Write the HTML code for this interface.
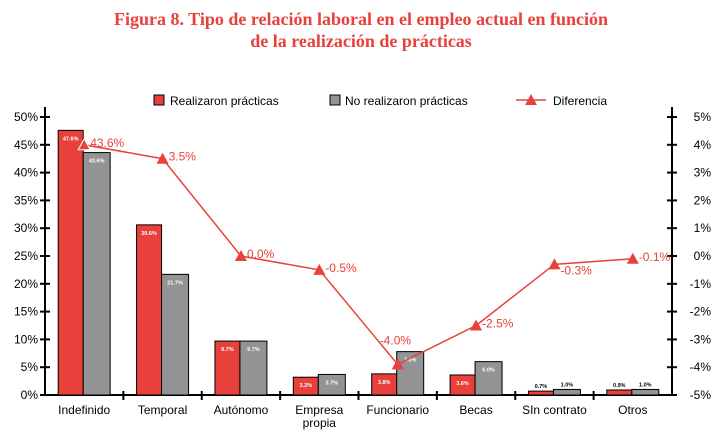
<!DOCTYPE html>
<html><head><meta charset="utf-8">
<style>
body{margin:0;background:#fff;width:722px;height:443px;overflow:hidden}
.t{position:absolute;left:0;width:722px;text-align:center;font-family:"Liberation Serif",serif;font-weight:bold;color:#e8403a;font-size:18px}
</style></head><body>
<div class="t" style="top:8px;line-height:22px">Figura 8. Tipo de relación laboral en el empleo actual en función<br>de la realización de prácticas</div>
<svg id="c" width="722" height="443" style="position:absolute;left:0;top:0" font-family="Liberation Sans, sans-serif"></svg>
<script>
const categories=["Indefinido","Temporal","Autónomo","Empresa|propia","Funcionario","Becas","SIn contrato","Otros"];
const realizaron=[47.6,30.6,9.7,3.2,3.8,3.6,0.7,0.9];
const noRealizaron=[43.6,21.7,9.7,3.7,7.8,6.0,1.0,1.0];
const diferencia=[4.0,3.5,0.0,-0.5,-3.9,-2.5,-0.3,-0.1];
const diffLabels=["43.6%","3.5%","0.0%","-0.5%","-4.0%","-2.5%","-0.3%","-0.1%"];
const leftTicks=[0,5,10,15,20,25,30,35,40,45,50];
const rightTicks=[-5,-4,-3,-2,-1,0,1,2,3,4,5];
const svg=document.getElementById('c');const NS='http://www.w3.org/2000/svg';
function mk(t,a,p){const e=document.createElementNS(NS,t);for(const k in a)e.setAttribute(k,a[k]);(p||svg).appendChild(e);return e;}
const L=45,R=672,T=117,B=395;const cw=(R-L)/categories.length;
const yL=v=>B-(v/50)*(B-T);const yR=v=>B-((v+5)/10)*(B-T);const xc=i=>L+cw*(i+0.5);
// axes
let e=mk('line',{x1:L,y1:T-10,x2:L,y2:B,stroke:'#000','stroke-width':2});

e=mk('line',{x1:R,y1:T-10,x2:R,y2:B,stroke:'#000','stroke-width':2});

e=mk('line',{x1:L,y1:B,x2:R,y2:B,stroke:'#000','stroke-width':2});

leftTicks.forEach(v=>{const y=yL(v);mk('line',{x1:L-5,y1:y,x2:L+5,y2:y,stroke:'#000','stroke-width':2});
 e=mk('text',{x:L-7,y:y+4,'text-anchor':'end','font-size':12});e.textContent=v+'%';
 });
rightTicks.forEach(v=>{const y=yR(v);mk('line',{x1:R-5,y1:y,x2:R+5,y2:y,stroke:'#000','stroke-width':2});
 e=mk('text',{x:R+39,y:y+4,'text-anchor':'end','font-size':12});e.textContent=v+'%';
 });
for(let i=1;i<categories.length;i++){const x=L+cw*i;mk('line',{x1:x,y1:B-4,x2:x,y2:B+5,stroke:'#000','stroke-width':2});}
const bw=25;
categories.forEach((c,i)=>{
 const x=xc(i);
 e=mk('rect',{x:x-bw-1,y:yL(realizaron[i]),width:bw,height:B-yL(realizaron[i]),fill:'#e8403a',stroke:'#000','stroke-width':1});
 
 e=mk('rect',{x:x-1,y:yL(noRealizaron[i]),width:bw+2,height:B-yL(noRealizaron[i]),fill:'#939396',stroke:'#000','stroke-width':1});
 
 const small=realizaron[i]<2;
 e=mk('text',{x:x-bw/2-1,y:small?yL(realizaron[i])-3:yL(realizaron[i])+10,'text-anchor':'middle','font-size':5.5,'font-weight':'bold',fill:small?'#000':'#fff'});e.textContent=realizaron[i].toFixed(1)+'%';
 
 e=mk('text',{x:x+bw/2,y:small?yL(noRealizaron[i])-3:yL(noRealizaron[i])+10,'text-anchor':'middle','font-size':5.5,'font-weight':'bold',fill:small?'#000':'#fff'});e.textContent=noRealizaron[i].toFixed(1)+'%';
 
 const parts=c.split('|');
 parts.forEach((p,j)=>{e=mk('text',{x:x,y:414+j*13,'text-anchor':'middle','font-size':12});e.textContent=p;
 });
});
e=mk('polyline',{points:diferencia.map((v,i)=>xc(i)+','+yR(v)).join(' '),fill:'none',stroke:'#e8403a','stroke-width':1.5});

diferencia.forEach((v,i)=>{const x=xc(i),y=yR(v);
 e=mk('polygon',{points:`${x},${y-6} ${x-6},${y+5} ${x+6},${y+5}`,fill:'#e8403a',stroke:i==0?'#fff':'none'});
 
 const lx=i==4?x-18:x+6,ly=i==4?y-20:(i==6?y+10:y+2);
 e=mk('text',{x:lx,y:ly,'font-size':12,fill:'#e8403a'});e.textContent=diffLabels[i];
 });
// legend
e=mk('rect',{x:154,y:95,width:10,height:10,fill:'#e8403a',stroke:'#000'});
e=mk('text',{x:170,y:105,'font-size':12});e.textContent='Realizaron prácticas';
e=mk('rect',{x:330,y:95,width:10,height:10,fill:'#939396',stroke:'#000'});
e=mk('text',{x:345,y:105,'font-size':12});e.textContent='No realizaron prácticas';
mk('line',{x1:516,y1:100,x2:546,y2:100,stroke:'#e8403a','stroke-width':1.5});
e=mk('polygon',{points:'531,94 525,105 537,105',fill:'#e8403a'});
e=mk('text',{x:553,y:105,'font-size':12});e.textContent='Diferencia';
</script>
</body></html>
